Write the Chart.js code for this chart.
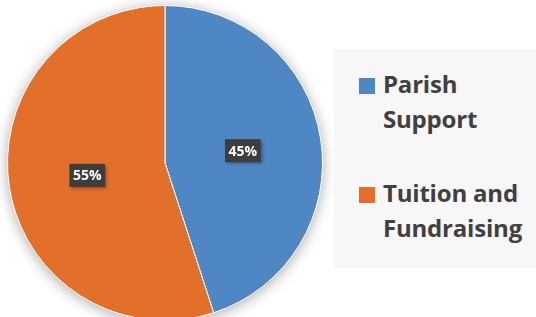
<!DOCTYPE html>
<html>
<head>
<meta charset="utf-8">
<script src="https://cdn.jsdelivr.net/npm/chart.js@4"></script>
<style>
  body { margin: 0; background: #fff; overflow: hidden; }
  .wrap { position: relative; width: 536px; height: 317px; overflow: hidden; }
  canvas { position: absolute; left: 0; top: 0; }
  .legend { position: absolute; left: 334px; top: 49px; width: 202px; height: 219px; background: #f7f7f7; }
  .item { position: absolute; left: 49px; font: bold 24px "Open Sans", sans-serif; color: #404040; line-height: 35px; letter-spacing: -0.2px; }
  .box { position: absolute; left: -24px; top: 12px; width: 16px; height: 16px; }
</style>
</head>
<body>
<div class="wrap">
  <canvas id="grafico" width="536" height="330"></canvas>
  <div class="legend" id="legenda"></div>
</div>
<script>
const labels = ['Parish Support', 'Tuition and Fundraising']
const legendLines = [['Parish', 'Support'], ['Tuition and', 'Fundraising']]
const values = [45, 55]
const colors = ['#4f86c4', '#e2702a']

const legenda = document.getElementById('legenda')
for (let i = 0; i < labels.length; i++) {
    legenda.append(item = document.createElement('div'))
    item.className = 'item'
    item.style.top = (i == 0 ? 17 : 126) + 'px'
    item.innerHTML = legendLines[i].join('<br>')
    item.append(box = document.createElement('div'))
    box.className = 'box'
    box.style.background = colors[i]
}

const sombra = {
    id: 'sombra',
    beforeDatasetsDraw(chart) {
        const arc = chart.getDatasetMeta(0).data[0]
        const ctx = chart.ctx
        ctx.save()
        ctx.shadowColor = 'rgba(0,0,0,0.35)'
        ctx.shadowBlur = 14
        ctx.shadowOffsetY = 2
        ctx.fillStyle = '#fff'
        ctx.beginPath()
        ctx.arc(arc.x, arc.y, arc.outerRadius, 0, Math.PI * 2)
        ctx.fill()
        ctx.restore()
    }
}

const rotulos = {
    id: 'rotulos',
    afterDatasetsDraw(chart) {
        const ctx = chart.ctx
        const total = values.reduce((a, b) => a + b, 0)
        chart.getDatasetMeta(0).data.forEach((arc, i) => {
            const p = arc.tooltipPosition()
            const txt = Math.round(values[i] / total * 100) + '%'
            ctx.save()
            ctx.font = 'bold 14px "Open Sans", sans-serif'
            const w = ctx.measureText(txt).width + 7
            const h = 23
            ctx.shadowColor = 'rgba(0,0,0,0.35)'
            ctx.shadowBlur = 3
            ctx.shadowOffsetX = 2
            ctx.shadowOffsetY = 2
            ctx.fillStyle = '#3d3d3d'
            ctx.fillRect(p.x - w / 2, p.y - h / 2, w, h)
            ctx.shadowColor = 'transparent'
            ctx.fillStyle = '#fff'
            ctx.textAlign = 'center'
            ctx.textBaseline = 'middle'
            ctx.fillText(txt, p.x, p.y + 1)
            ctx.restore()
        })
    }
}

const graph = new Chart(document.getElementById('grafico').getContext('2d'), {
    type: 'pie',
    data: {
        labels: labels,
        datasets: [{
            data: values,
            backgroundColor: colors,
            borderColor: '#ffffff',
            borderWidth: 1
        }]
    },
    options: {
        responsive: false,
        animation: false,
        layout: { padding: { left: 7, top: 5, right: 213, bottom: 9 } },
        plugins: {
            legend: { display: false },
            tooltip: { enabled: false }
        }
    },
    plugins: [sombra, rotulos]
})
</script>
</body>
</html>
